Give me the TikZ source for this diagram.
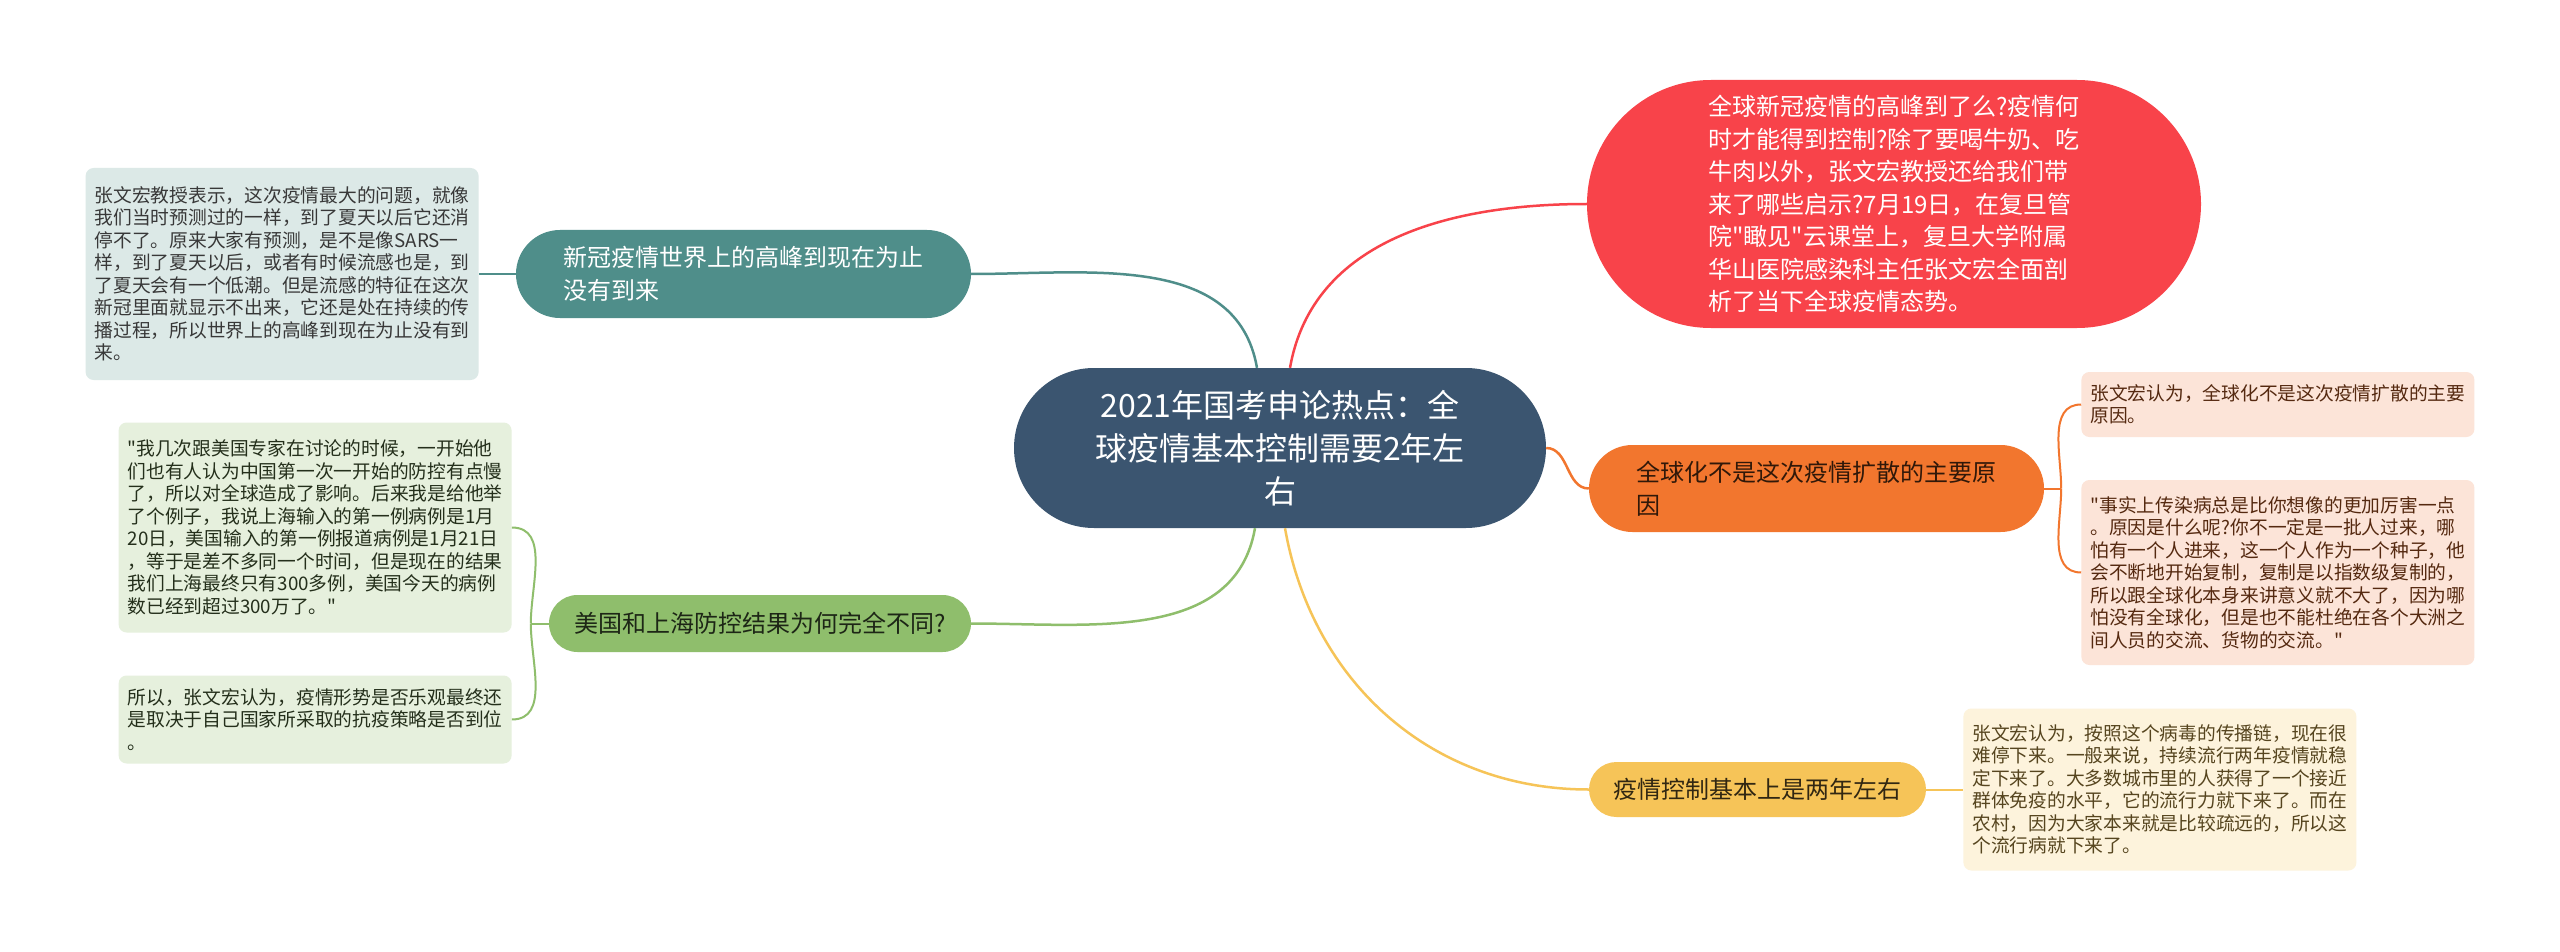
\documentclass[tikz,border=0pt]{standalone}
\usepackage{fontspec}
\setmainfont{Noto Sans CJK SC}[Ligatures=TeXOff]
\usetikzlibrary{positioning,shapes.misc}

\definecolor{hubblue}{HTML}{3B5570}
\definecolor{tealc}{HTML}{4F8E8A}
\definecolor{greenc}{HTML}{8FBE6C}
\definecolor{redc}{HTML}{F8434A}
\definecolor{orangec}{HTML}{F2762E}
\definecolor{yellowc}{HTML}{F6C458}
\definecolor{tealleaf}{HTML}{DCE9E7}
\definecolor{greenleaf}{HTML}{E6F0DD}
\definecolor{orangeleaf}{HTML}{FCE4D8}
\definecolor{yellowleaf}{HTML}{FDF3DC}

\begin{document}
\begin{tikzpicture}[
    x=1pt, y=-1pt,
    node distance=37pt,
    hubbox/.style={rounded rectangle, fill=hubblue, text=white, inner xsep=2pt, align=center, font=\fontsize{32}{43}\selectfont},
    branchbox/.style={rounded rectangle, inner xsep=4pt, align=left, font=\fontsize{24}{32.5}\selectfont},
    leafbox/.style={rectangle, rounded corners=8pt, text width=375pt, inner xsep=9pt, align=left, font=\fontsize{18.75}{22.5}\selectfont},
    link/.style={line width=2.5pt},
    twig/.style={line width=2pt}
]
    \path[use as bounding box, fill=white] (0,0) rectangle (2560,952);

    \node[hubbox, minimum width=536pt, minimum height=160pt] (hub) at (1280,448) {2021年国考申论热点：全\\球疫情基本控制需要2年左\\右};

    \node[branchbox, fill=tealc, text=white, minimum width=463pt, minimum height=88pt] (peak) at (743.5,274) {新冠疫情世界上的高峰到现在为止\\没有到来};
    \node[branchbox, fill=greenc, text=black!80!greenc, minimum width=430pt, minimum height=57pt] (usvs) at (760,623.5) {美国和上海防控结果为何完全不同?};
    \node[branchbox, fill=redc, text=white, minimum width=622pt, minimum height=248pt] (intro) at (1894,204) {全球新冠疫情的高峰到了么?疫情何\\时才能得到控制?除了要喝牛奶、吃\\牛肉以外，张文宏教授还给我们带\\来了哪些启示?7月19日，在复旦管\\院"瞰见"云课堂上，复旦大学附属\\华山医院感染科主任张文宏全面剖\\析了当下全球疫情态势。};
    \node[branchbox, fill=orangec, text=black!80!orangec, minimum width=463pt, minimum height=87pt] (global) at (1816.5,488.5) {全球化不是这次疫情扩散的主要原\\因};
    \node[branchbox, fill=yellowc, text=black!80!yellowc, minimum width=345pt, minimum height=55pt] (twoyear) at (1757.5,789.5) {疫情控制基本上是两年左右};

    \node[leafbox, fill=tealleaf, text=black!78, minimum height=212pt, left=of peak] (peaknote) {张文宏教授表示，这次疫情最大的问题，就像\\我们当时预测过的一样，到了夏天以后它还消\\停不了。原来大家有预测，是不是像SARS一\\样，到了夏天以后，或者有时候流感也是，到\\了夏天会有一个低潮。但是流感的特征在这次\\新冠里面就显示不出来，它还是处在持续的传\\播过程，所以世界上的高峰到现在为止没有到\\来。};
    \node[leafbox, fill=greenleaf, text=black!75!greenc, minimum height=210pt, left=of usvs, yshift=96pt] (usnote) {"我几次跟美国专家在讨论的时候，一开始他\\们也有人认为中国第一次一开始的防控有点慢\\了，所以对全球造成了影响。后来我是给他举\\了个例子，我说上海输入的第一例病例是1月\\20日，美国输入的第一例报道病例是1月21日\\，等于是差不多同一个时间，但是现在的结果\\我们上海最终只有300多例，美国今天的病例\\数已经到超过300万了。"};
    \node[leafbox, fill=greenleaf, text=black!75!greenc, minimum height=88pt, left=of usvs, yshift=-96pt] (usend) {所以，张文宏认为，疫情形势是否乐观最终还\\是取决于自己国家所采取的抗疫策略是否到位\\。};
    \node[leafbox, fill=orangeleaf, text=black!65!orangec, minimum height=65pt, right=of global, yshift=84pt] (globnote) {张文宏认为，全球化不是这次疫情扩散的主要\\原因。};
    \node[leafbox, fill=orangeleaf, text=black!65!orangec, minimum height=185pt, right=of global, yshift=-84pt] (globquote) {"事实上传染病总是比你想像的更加厉害一点\\。原因是什么呢?你不一定是一批人过来，哪\\怕有一个人进来，这一个人作为一个种子，他\\会不断地开始复制，复制是以指数级复制的，\\所以跟全球化本身来讲意义就不大了，因为哪\\怕没有全球化，但是也不能杜绝在各个大洲之\\间人员的交流、货物的交流。"};
    \node[leafbox, fill=yellowleaf, text=black!65!yellowc, minimum height=162pt, right=of twoyear] (twonote) {张文宏认为，按照这个病毒的传播链，现在很\\难停下来。一般来说，持续流行两年疫情就稳\\定下来了。大多数城市里的人获得了一个接近\\群体免疫的水平，它的流行力就下来了。而在\\农村，因为大家本来就是比较疏远的，所以这\\个流行病就下来了。};

    \coordinate[left=18pt of usvs] (usjoint);
    \coordinate[right=17pt of global] (globjoint);

    \draw[link, tealc] ([xshift=-23pt]hub.north) to[out=100, in=0] (peak.east);
    \draw[link, redc] ([xshift=10pt]hub.north) to[out=80, in=180] (intro.west);
    \draw[link, orangec] (hub.east) to[out=0, in=180] (global.west);
    \draw[link, greenc] ([xshift=-25pt]hub.south) to[out=-100, in=0] (usvs.east);
    \draw[link, yellowc] ([xshift=5pt]hub.south) to[out=-80, in=180] (twoyear.west);

    \draw[twig, tealc] (peak.west) -- (peaknote.east);
    \draw[twig, greenc] (usvs.west) -- (usjoint);
    \draw[twig, greenc] (usjoint) to[out=90, in=0] (usnote.east);
    \draw[twig, greenc] (usjoint) to[out=-90, in=0] (usend.east);
    \draw[twig, orangec] (global.east) -- (globjoint);
    \draw[twig, orangec] (globjoint) to[out=90, in=180] (globnote.west);
    \draw[twig, orangec] (globjoint) to[out=-90, in=180] (globquote.west);
    \draw[twig, yellowc] (twoyear.east) -- (twonote.west);
\end{tikzpicture}
\end{document}
